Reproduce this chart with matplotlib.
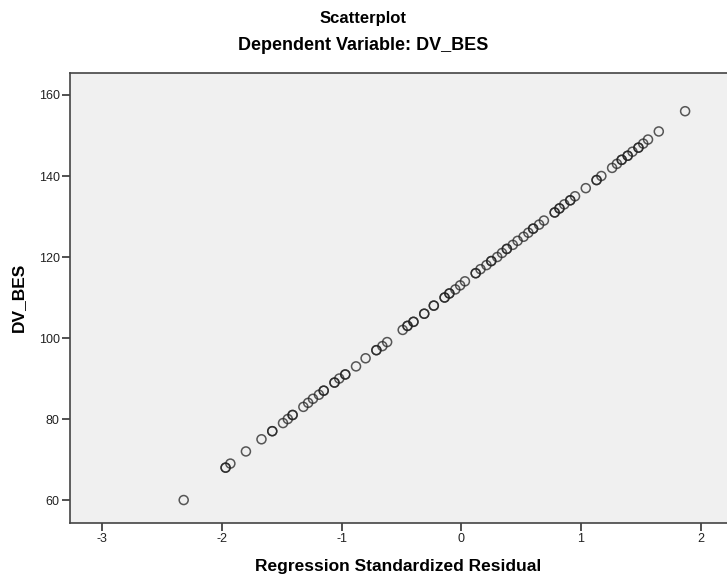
import matplotlib
matplotlib.use("Agg")
import matplotlib.pyplot as plt

plt.rcParams['font.family'] = ['Liberation Sans', 'DejaVu Sans']
plt.rcParams['axes.unicode_minus'] = False

# Regression standardized residual (x) vs DV_BES (y)
residual = [-2.32, -1.97, -1.97, -1.93, -1.80, -1.67, -1.58, -1.58, -1.49, -1.45,
            -1.41, -1.41, -1.32, -1.28, -1.24, -1.19, -1.15, -1.15, -1.06, -1.06,
            -1.02, -0.97, -0.97, -0.88, -0.80, -0.71, -0.71, -0.66, -0.62, -0.49,
            -0.45, -0.45, -0.40, -0.40, -0.31, -0.31, -0.23, -0.23, -0.14, -0.14,
            -0.10, -0.10, -0.05, -0.01, 0.03, 0.12, 0.12, 0.16, 0.21, 0.25,
            0.25, 0.30, 0.34, 0.38, 0.38, 0.43, 0.47, 0.52, 0.56, 0.60,
            0.60, 0.65, 0.69, 0.78, 0.78, 0.82, 0.82, 0.86, 0.91, 0.91,
            0.95, 1.04, 1.13, 1.13, 1.17, 1.26, 1.30, 1.34, 1.34, 1.39,
            1.39, 1.43, 1.48, 1.48, 1.52, 1.56, 1.65, 1.87]
dv_bes = [60, 68, 68, 69, 72, 75, 77, 77, 79, 80,
          81, 81, 83, 84, 85, 86, 87, 87, 89, 89,
          90, 91, 91, 93, 95, 97, 97, 98, 99, 102,
          103, 103, 104, 104, 106, 106, 108, 108, 110, 110,
          111, 111, 112, 113, 114, 116, 116, 117, 118, 119,
          119, 120, 121, 122, 122, 123, 124, 125, 126, 127,
          127, 128, 129, 131, 131, 132, 132, 133, 134, 134,
          135, 137, 139, 139, 140, 142, 143, 144, 144, 145,
          145, 146, 147, 147, 148, 149, 151, 156]

x_ticks = [-3, -2, -1, 0, 1, 2]
y_ticks = [60, 80, 100, 120, 140, 160]

fig = plt.figure(figsize=(7.27, 5.79), dpi=100)
ax = fig.add_axes([0.0963, 0.0972, 0.9037, 0.7772])
ax.set_facecolor('#f0f0f0')

ax.scatter(residual, dv_bes, s=42, facecolors='none', edgecolors='#222222',
           linewidths=1.1, alpha=0.75)

ax.set_xlim(-3.27, 2.22)
ax.set_ylim(54.4, 165.5)
ax.set_xticks(x_ticks)
ax.set_yticks(y_ticks)
ax.tick_params(direction='out', length=6, width=1.2, color='#333333', pad=1.5,
               labelsize=9, labelcolor='#222222')

for side in ['left', 'bottom', 'top']:
    ax.spines[side].set_color('#444444')
    ax.spines[side].set_linewidth(1.2)
ax.spines['right'].set_visible(False)

ax.set_xlabel('Regression Standardized Residual', fontsize=12.5, fontweight='bold', labelpad=10)
ax.set_ylabel('DV_BES', fontsize=12.5, fontweight='bold', labelpad=9)

fig.text(0.5, 0.968, 'Scatterplot', ha='center', va='center', fontsize=12, fontweight='bold')
fig.text(0.5, 0.922, 'Dependent Variable: DV_BES', ha='center', va='center', fontsize=13, fontweight='bold')

fig.savefig('out.png', dpi=100)
